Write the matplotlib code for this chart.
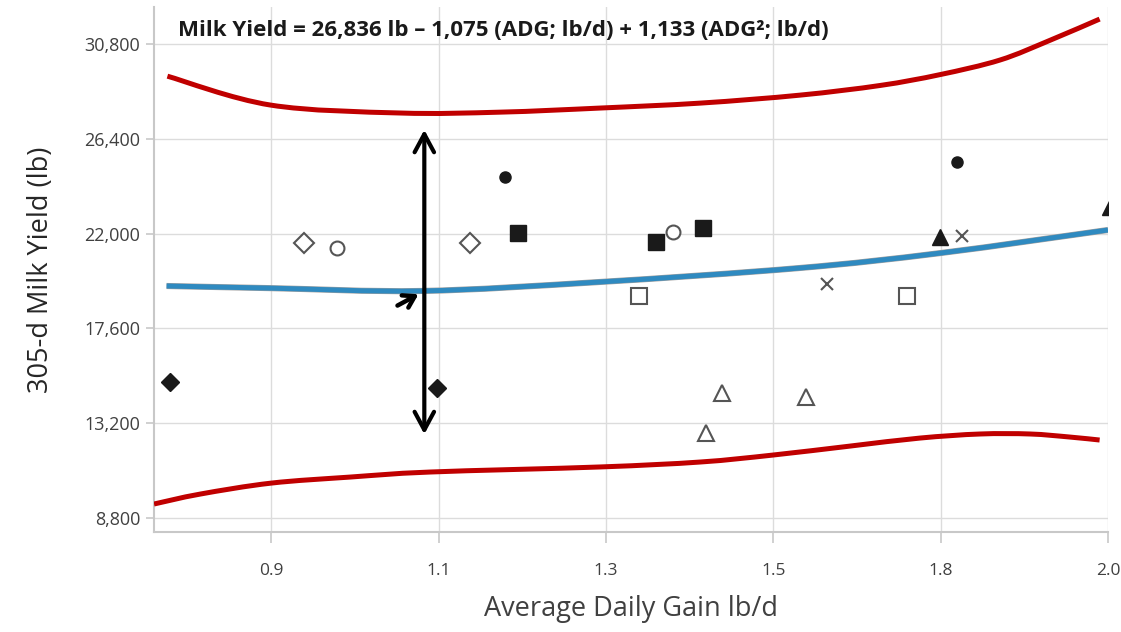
import numpy as np
import matplotlib
matplotlib.use('Agg')
import matplotlib.pyplot as plt
from matplotlib.path import Path
from matplotlib.patches import PathPatch

plt.rcParams['font.family'] = ['Open Sans', 'DejaVu Sans']

# tick labels as printed on the chart (evenly spaced although the values are not)
xtick_pos = [0.9, 1.1, 1.3, 1.5, 1.7, 1.9]
xtick_lab = ['0.9', '1.1', '1.3', '1.5', '1.8', '2.0']
ytick_pos = [8800, 13200, 17600, 22000, 26400, 30800]

# regression line
fit_x = [0.775, 0.90, 1.08, 1.29, 1.53, 1.70, 1.90]
fit_y = [19570, 19470, 19340, 19750, 20400, 21100, 22170]

# upper / lower bound
up_x = [0.776, 0.899, 1.054, 1.174, 1.293, 1.413, 1.532, 1.628, 1.699, 1.771, 1.831, 1.890]
up_y = [29310, 27970, 27600, 27640, 27830, 28060, 28430, 28880, 29380, 30060, 30980, 31960]
lo_x = [0.760, 0.815, 0.900, 0.994, 1.090, 1.293, 1.413, 1.499, 1.592, 1.675, 1.747, 1.807, 1.854, 1.890]
lo_y = [9450, 9910, 10420, 10700, 10935, 11170, 11400, 11720, 12140, 12510, 12700, 12700, 12560, 12420]

# herds (x = ADG, y = milk)
fdiam_x, fdiam_y = [0.779, 1.098], [15110, 14830]
odiam_x, odiam_y = [0.939, 1.138], [21560, 21560]
ocirc_x, ocirc_y = [0.979, 1.380], [21330, 22070]
fcirc_x, fcirc_y = [1.180, 1.720], [24630, 25320]
fsq_x, fsq_y = [1.195, 1.360, 1.416], [22030, 21610, 22260]
osq_x, osq_y = [1.340, 1.660], [19100, 19100]
otri_x, otri_y = [1.439, 1.420, 1.539], [14600, 12745, 14420]
cross_x, cross_y = [1.564, 1.726], [19660, 21890]
ftri_x, ftri_y = [1.699, 1.902], [21840, 23230]

arrow_x = 1.083
arrow_top, arrow_bot = 26950, 12560


def smooth_line(ax, xs, ys, **kw):
    # draw the read points joined by a smooth bezier path
    p = np.column_stack([xs, ys]).astype(float)
    n = len(p)
    verts = [p[0]]
    codes = [Path.MOVETO]
    for i in range(n - 1):
        a = p[i - 1] if i > 0 else p[i]
        d = p[i + 2] if i + 2 < n else p[i + 1]
        verts += [p[i] + (p[i + 1] - a) / 6, p[i + 1] - (d - p[i]) / 6, p[i + 1]]
        codes += [Path.CURVE4] * 3
    ax.add_patch(PathPatch(Path(verts, codes), fill=False, capstyle='butt', **kw))


fig = plt.figure(figsize=(11.21, 6.32), dpi=100)
ax = fig.add_axes([0.1374, 0.1582, 0.8510, 0.8307])

smooth_line(ax, up_x, up_y, edgecolor='#c00000', lw=3.6, zorder=3)
smooth_line(ax, lo_x, lo_y, edgecolor='#c00000', lw=3.6, zorder=3)
smooth_line(ax, fit_x, fit_y, edgecolor='#a0a0a0', lw=4.4, zorder=3)
smooth_line(ax, fit_x, fit_y, edgecolor='#2f8ac0', lw=3.6, zorder=3)

k = '#1a1a1a'
g = '#555555'
ax.plot(fdiam_x, fdiam_y, 'D', ms=9, color=k, ls='none', zorder=4)
ax.plot(odiam_x, odiam_y, 'D', ms=10, mfc='white', mec=g, mew=1.5, ls='none', zorder=4)
ax.plot(ocirc_x, ocirc_y, 'o', ms=10, mfc='white', mec=g, mew=1.5, ls='none', zorder=4)
ax.plot(fcirc_x, fcirc_y, 'o', ms=8, color=k, ls='none', zorder=4)
ax.plot(fsq_x, fsq_y, 's', ms=11, color=k, ls='none', zorder=4)
ax.plot(osq_x, osq_y, 's', ms=11, mfc='white', mec=g, mew=1.5, ls='none', zorder=4)
ax.plot(otri_x, otri_y, '^', ms=11, mfc='white', mec=g, mew=1.5, ls='none', zorder=4)
ax.plot(cross_x, cross_y, 'x', ms=9, color=g, mew=1.5, ls='none', zorder=4)
ax.plot(ftri_x, ftri_y, '^', ms=11, color=k, ls='none', zorder=4)

# double arrow and small pointer
ax.annotate('', xy=(arrow_x, arrow_top), xytext=(arrow_x, arrow_bot),
            arrowprops=dict(arrowstyle='<->,head_length=1.3,head_width=0.7', color='black', lw=3),
            zorder=5)
ax.annotate('', xy=(arrow_x - 0.004, 19250), xytext=(arrow_x - 0.035, 18600),
            arrowprops=dict(arrowstyle='->,head_length=0.8,head_width=0.5', color='black', lw=3.2),
            zorder=5)

ax.set_xlim(0.760, 1.9)
ax.set_ylim(8150, 32520)
ax.set_xticks(xtick_pos)
ax.set_xticklabels(xtick_lab)
ax.set_yticks(ytick_pos)
ax.set_yticklabels(['{:,}'.format(v) for v in ytick_pos])
ax.grid(True, color='#dcdcdc', lw=1)
ax.set_axisbelow(True)
for s in ['top', 'right']:
    ax.spines[s].set_visible(False)
for s in ['left', 'bottom']:
    ax.spines[s].set_color('#c8c8c8')
    ax.spines[s].set_linewidth(1.5)
ax.tick_params(axis='x', length=8, width=1.2, color='#c8c8c8', pad=14, labelsize=12.5, labelcolor='#404040')
ax.tick_params(axis='y', length=6, width=1.2, color='#c8c8c8', pad=4, labelsize=13, labelcolor='#404040')

ax.set_xlabel('Average Daily Gain lb/d', fontsize=19.5, color='#404040', labelpad=12)
ax.set_ylabel('305-d Milk Yield (lb)', fontsize=19.5, color='#262626')
ax.yaxis.set_label_coords(-0.104, 0.50)

fig.text(178 / 1121, 1 - 30 / 632,
         'Milk Yield = 26,836 lb \u2013 1,075 (ADG; lb/d) + 1,133 (ADG\u00b2; lb/d)',
         fontsize=16, fontweight='bold', color='#1a1a1a', ha='left', va='center')

fig.savefig('out.png', dpi=100)
